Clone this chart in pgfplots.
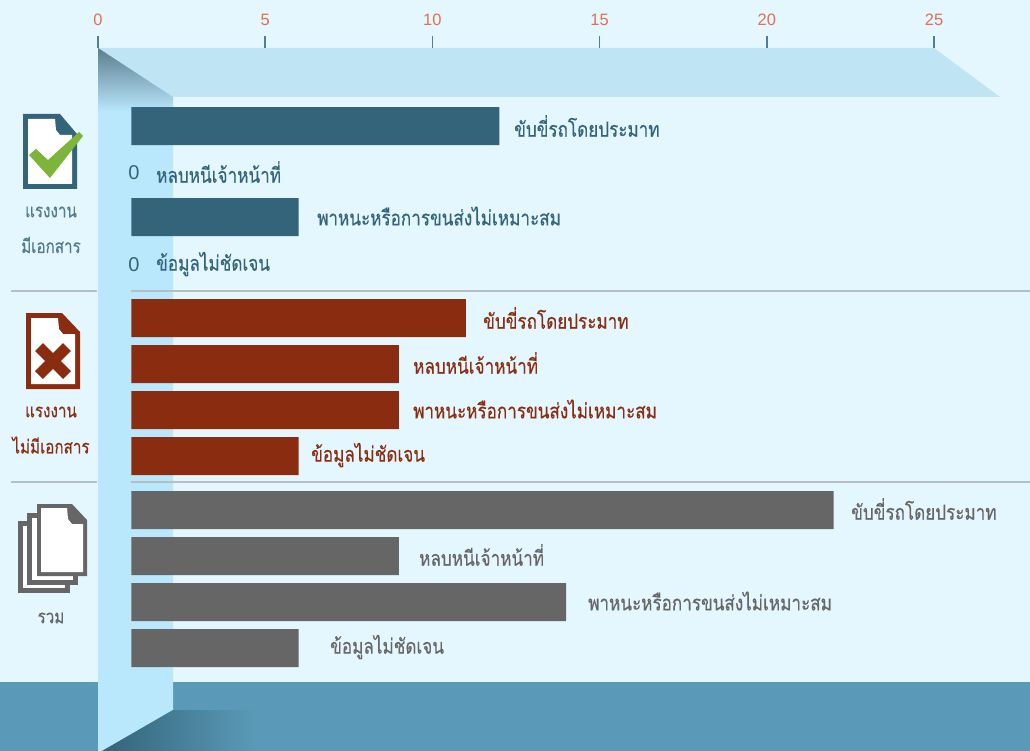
\documentclass[border=0pt]{standalone}
\usepackage{pgfplots}
\pgfplotsset{compat=1.18}
\usepackage{fontspec}
\setmainfont{Liberation Sans}
\newfontfamily\thaifont[Script=Thai,FakeBold=0.35]{Loma}
\definecolor{bgc}{HTML}{E4F7FE}
\definecolor{wallc}{HTML}{B9E8FD}
\definecolor{topc}{HTML}{BFE4F3}
\definecolor{bandc}{HTML}{5A9AB8}
\definecolor{tealc}{HTML}{336479}
\definecolor{redc}{HTML}{8A2C10}
\definecolor{grayc}{HTML}{666666}
\definecolor{sepc}{HTML}{B4BEC4}
\definecolor{tickc}{HTML}{4F7F92}
\definecolor{numc}{HTML}{E0714F}
\definecolor{grn}{HTML}{7CB53A}
\pgfplotstableread{
pos val
126 11
172 0
217 5
264 0
}\docyes
\pgfplotstableread{
pos val
318 10
364 8
410 8
456 5
}\docno
\pgfplotstableread{
pos val
510 21
556 8
602 13
648 5
}\doctotal
\newcommand\lab[4]{\node[anchor=west,inner sep=0pt,text=#4,font=\thaifont\fontsize{21}{23}\selectfont] at (#1,#2-2) {\scalebox{.814}[1]{#3}};}
\newcommand\grp[4]{\node[text=#4,font=\thaifont\fontsize{19}{21}\selectfont,inner sep=0pt] at (#1,#2) {\scalebox{.8}[1]{#3}};}
\begin{document}
\begin{tikzpicture}[x=1pt,y=-1pt]
% background
\path[use as bounding box] (0,0) rectangle (1030,751);
\fill[bgc] (0,0) rectangle (1030,751);
\fill[bandc] (0,682) rectangle (1030,751);
\fill[topc] (98,48) -- (934,48) -- (1000,97) -- (173,97) -- cycle;
\fill[wallc] (98,48) -- (173,97) -- (173,710) -- (102,751) -- (98,751) -- cycle;
\shade[top color=black!45!tealc!60!wallc,bottom color=wallc] (98,48) -- (173,97) -- (173,112) -- (98,112) -- cycle;
\shade[left color=tealc,right color=bandc] (102,751) -- (173,710) -- (255,710) -- (255,751) -- cycle;
\draw[sepc,line width=2pt] (11,291) -- (97,291) (131,291) -- (1030,291);
\draw[sepc,line width=2pt] (11,482) -- (97,482) (131,482) -- (1030,482);
% chart
\begin{axis}[
  at={(98pt,-48pt)},anchor=north west,
  scale only axis,width=932pt,height=703pt,
  xmin=-1,xmax=26.87,ymin=48,ymax=751,
  y dir=reverse,clip=false,
  axis line style={draw=none},
  ytick=\empty,
  xtick={-1,4,9,14,19,24},
  xticklabels={0,5,10,15,20,25},
  xtick pos=upper,xticklabel pos=upper,
  tick align=outside,major tick length=12pt,
  xtick style={draw=tickc,line width=1.6pt},
  xticklabel style={text=numc,font=\fontsize{16.5}{18}\selectfont,inner sep=0pt,yshift=10pt},
  xbar,bar shift=0pt,bar width=38pt,
]
\addplot[fill=tealc,draw=none,restrict x to domain=0.01:100] table[x=val,y=pos] {\docyes};
\addplot[fill=redc,draw=none] table[x=val,y=pos] {\docno};
\addplot[fill=grayc,draw=none] table[x=val,y=pos] {\doctotal};
\end{axis}
% labels
\lab{514}{128}{ขับขี่รถโดยประมาท}{tealc}
\node[anchor=center,inner sep=0pt,text=tealc,font=\fontsize{20}{22}\selectfont] at (134,173) {0};
\lab{156}{174}{หลบหนีเจ้าหน้าที่}{tealc}
\lab{317}{218}{พาหนะหรือการขนส่งไม่เหมาะสม}{tealc}
\node[anchor=center,inner sep=0pt,text=tealc,font=\fontsize{20}{22}\selectfont] at (134,265) {0};
\lab{156}{266}{ข้อมูลไม่ชัดเจน}{tealc}
\lab{483}{320}{ขับขี่รถโดยประมาท}{redc}
\lab{413}{365}{หลบหนีเจ้าหน้าที่}{redc}
\lab{413}{411}{พาหนะหรือการขนส่งไม่เหมาะสม}{redc}
\lab{311}{457}{ข้อมูลไม่ชัดเจน}{redc}
\lab{851}{511}{ขับขี่รถโดยประมาท}{grayc}
\lab{419}{557}{หลบหนีเจ้าหน้าที่}{grayc}
\lab{588}{603}{พาหนะหรือการขนส่งไม่เหมาะสม}{grayc}
\lab{330}{649}{ข้อมูลไม่ชัดเจน}{grayc}
% group names
\grp{51}{212}{แรงงาน}{tealc!85!white}
\grp{51}{245}{มีเอกสาร}{tealc!85!white}
\grp{51}{412}{แรงงาน}{redc}
\grp{51}{445}{ไม่มีเอกสาร}{redc}
\grp{51}{618}{รวม}{grayc}
% icon 1
\fill[tealc] (23,114) -- (60,114) -- (77,134) -- (77,189) -- (23,189) -- cycle;
\fill[white] (28,119) -- (55,119) -- (56,130) -- (60,135) -- (72,135) -- (72,184) -- (28,184) -- cycle;
\fill[grn] (29,155) -- (36,149) -- (48,160) -- (79,132) -- (83,136) -- (50,178) -- cycle;
% icon 2
\fill[redc] (26,313) -- (62,313) -- (80,332) -- (80,389) -- (26,389) -- cycle;
\fill[white] (31,318) -- (58,318) -- (59,329) -- (63,334) -- (75,334) -- (75,384) -- (31,384) -- cycle;
\draw[redc,line width=11pt] (39,347) -- (67,375) (67,347) -- (39,375);
% icon 3
\fill[grayc] (18,521) rectangle (70,593);
\fill[white] (23,526) rectangle (65,588);
\fill[grayc] (27,513) rectangle (78,585);
\fill[white] (32,518) rectangle (73,580);
\fill[grayc] (37,504) -- (72,504) -- (87,520) -- (87,576) -- (37,576) -- cycle;
\fill[white] (41,508) -- (67,508) -- (68,519) -- (72,524) -- (83,524) -- (83,572) -- (41,572) -- cycle;
\end{tikzpicture}
\end{document}
